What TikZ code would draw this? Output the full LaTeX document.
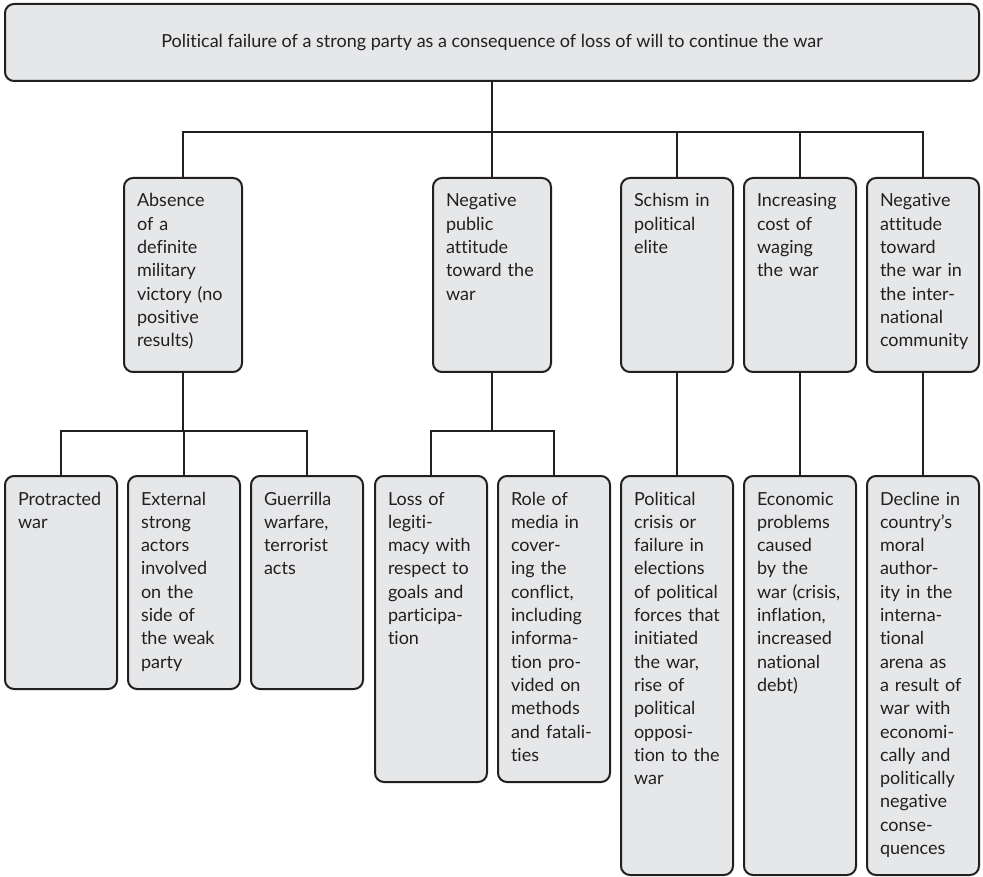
\documentclass[tikz,border=0pt]{standalone}
\usepackage{fontspec}
\setmainfont{Lato}[Ligatures=NoCommon]
\usepackage{xcolor}
\usepackage{tikz}
\usetikzlibrary{positioning}

\definecolor{boxfill}{HTML}{E6E7E8}
\definecolor{ink}{HTML}{231F20}

\begin{document}
\begin{tikzpicture}[
      x=1pt, y=-1pt,
      cell/.style={draw=ink, fill=boxfill, rounded corners=9pt, line width=2pt, anchor=north,
        inner xsep=13pt, inner ysep=0pt, text width=86pt, align=left, text height=29pt,
        text=ink, font=\fontsize{18}{23.3}\selectfont},
      widecell/.style={cell, text width=92pt},
      headbox/.style={draw=ink, fill=boxfill, rounded corners=9pt, line width=2pt,
        minimum width=974pt, minimum height=77pt, text=ink, font=\fontsize{18}{23.3}\selectfont},
      link/.style={draw=ink, line width=2pt}
    ]
    \useasboundingbox (0,0) rectangle (983,877);

    \node[headbox] (goal) at (492,42.5) {Political failure of a strong party as a consequence of loss of will to continue the war};

    % second level
    \node[widecell, text depth=165pt] (absence) at (183,177) {Absence\\of a\\definite\\military\\victory (no\\positive\\results)};
    \node[widecell, text depth=165pt] (public) at (492,177) {Negative\\public\\attitude\\toward the\\war};
    \node[cell, text depth=165pt] (schism) at (677,177) {Schism in\\political\\elite};
    \node[cell, text depth=165pt] (cost) at (800,177) {Increasing\\cost of\\waging\\the war};
    \node[cell, text depth=165pt] (world) at (923,177) {Negative\\attitude\\toward\\the war in\\the inter-\\national\\community};

    % third level
    \node[cell, text depth=184pt] (protracted) at (61,475) {Protracted\\war};
    \node[cell, text depth=184pt] (external) at (184,475) {External\\strong\\actors\\involved\\on the\\side of\\the weak\\party};
    \node[cell, text depth=184pt] (guerrilla) at (307,475) {Guerrilla\\warfare,\\terrorist\\acts};
    \node[cell, text depth=277pt] (legit) at (431,475) {Loss of\\legiti-\\macy with\\respect to\\goals and\\participa-\\tion};
    \node[cell, text depth=277pt] (media) at (554,475) {Role of\\media in\\cover-\\ing the\\conflict,\\including\\informa-\\tion pro-\\vided on\\methods\\and fatali-\\ties};
    \node[cell, text depth=370pt] (crisis) at (677,475) {Political\\crisis or\\failure in\\elections\\of political\\forces that\\initiated\\the war,\\rise of\\political\\opposi-\\tion to the\\war};
    \node[cell, text depth=370pt] (economy) at (800,475) {Economic\\problems\\caused\\by the\\war (crisis,\\inflation,\\increased\\national\\debt)};
    \node[cell, text depth=370pt] (moral) at (923,475) {Decline in\\country’s\\moral\\author-\\ity in the\\interna-\\tional\\arena as\\a result of\\war with\\economi-\\cally and\\politically\\negative\\conse-\\quences};

    % junctions
    \coordinate (hub) at (492,132);
    \coordinate (hubabs) at (183,431);
    \coordinate (hubpub) at (492,431);

    \draw[link] (goal.south) -- (hub);
    \draw[link] (absence.north) |- (hub);
    \draw[link] (public.north) -- (hub);
    \draw[link] (schism.north) |- (hub);
    \draw[link] (cost.north) |- (hub);
    \draw[link] (world.north) |- (hub);

    \draw[link] (absence.south) -- (hubabs);
    \draw[link] (protracted.north) |- (hubabs);
    \draw[link] (external.north) |- (hubabs);
    \draw[link] (guerrilla.north) |- (hubabs);

    \draw[link] (public.south) -- (hubpub);
    \draw[link] (legit.north) |- (hubpub);
    \draw[link] (media.north) |- (hubpub);

    \draw[link] (schism.south) -- (crisis.north);
    \draw[link] (cost.south) -- (economy.north);
    \draw[link] (world.south) -- (moral.north);
  \end{tikzpicture}
\end{document}
